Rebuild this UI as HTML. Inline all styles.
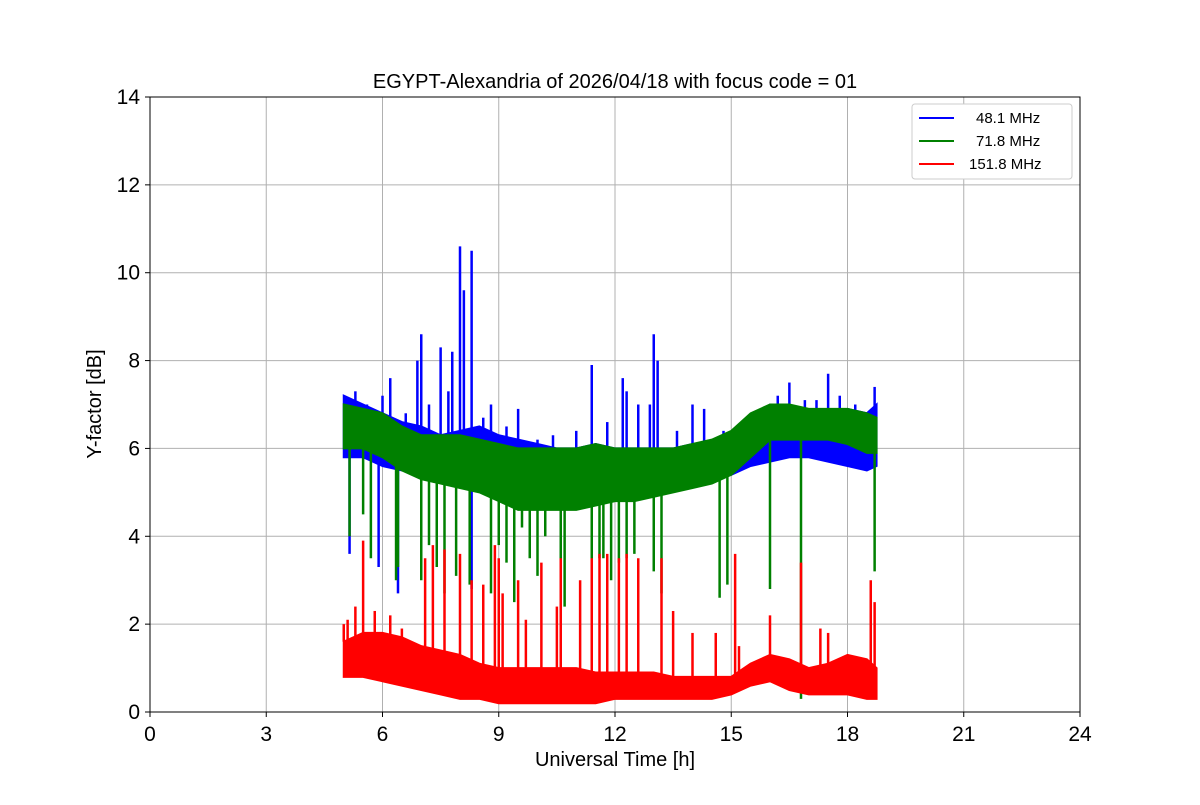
<!DOCTYPE html>
<html><head><meta charset="utf-8">
<style>
body{margin:0;background:#fff;}
svg text{font-family:"Liberation Sans",sans-serif;fill:#000;}
</style></head>
<body>
<svg id="chart" width="1200" height="800" xmlns="http://www.w3.org/2000/svg">
<rect width="1200" height="800" fill="#fff"/>
<g id="grid"></g>
<g id="series"></g>
<rect x="150" y="97" width="930" height="615" fill="none" stroke="#000" stroke-width="1"/>
<g id="axes"></g>
<text x="615" y="88" font-size="20" text-anchor="middle">EGYPT-Alexandria of 2026/04/18 with focus code = 01</text>
<text x="615" y="766" font-size="20" text-anchor="middle">Universal Time [h]</text>
<text transform="translate(101,404) rotate(-90)" font-size="20" text-anchor="middle">Y-factor [dB]</text>
<g>
<rect x="912" y="104" width="160" height="75" rx="3" fill="#fff" stroke="#ccc"/>
<line x1="919" y1="118" x2="954" y2="118" stroke="#0000ff" stroke-width="2"/>
<text x="976" y="123" font-size="15">48.1 MHz</text>
<line x1="919" y1="141" x2="954" y2="141" stroke="#008000" stroke-width="2"/>
<text x="976" y="146" font-size="15">71.8 MHz</text>
<line x1="919" y1="164" x2="954" y2="164" stroke="#ff0000" stroke-width="2"/>
<text x="969" y="169" font-size="15">151.8 MHz</text>
</g>
</svg>
<script>
const times=[5.0,5.5,6.0,6.5,7.0,7.5,8.0,8.5,9.0,9.5,10.0,10.5,11.0,11.5,12.0,12.5,13.0,13.5,14.0,14.5,15.0,15.5,16.0,16.5,17.0,17.5,18.0,18.5,18.75];
const blueHi=[7.2,7.0,6.8,6.6,6.5,6.3,6.4,6.5,6.3,6.2,6.1,6.0,6.0,6.1,6.0,6.0,6.0,6.0,6.1,6.0,6.2,6.4,7.0,7.0,6.8,6.8,6.9,6.8,7.0];
const blueLo=[5.8,5.8,5.6,5.5,5.4,5.4,5.3,5.2,5.0,4.9,4.8,4.8,4.8,4.9,4.9,5.0,5.0,5.1,5.2,5.3,5.4,5.6,5.7,5.8,5.8,5.7,5.6,5.5,5.6];
const greenHi=[7.0,6.9,6.8,6.5,6.3,6.3,6.3,6.2,6.1,6.0,6.0,6.0,6.0,6.1,6.0,6.0,6.0,6.0,6.1,6.2,6.4,6.8,7.0,7.0,6.9,6.9,6.9,6.8,6.7];
const greenLo=[6.0,6.0,5.8,5.5,5.3,5.2,5.1,5.0,4.8,4.6,4.6,4.6,4.6,4.7,4.8,4.8,4.9,5.0,5.1,5.2,5.4,5.8,6.2,6.2,6.2,6.2,6.1,5.9,5.9];
const redHi=[1.6,1.8,1.8,1.7,1.5,1.4,1.3,1.1,1.0,1.0,1.0,1.0,1.0,0.9,0.9,0.9,0.9,0.8,0.8,0.8,0.8,1.1,1.3,1.2,1.0,1.1,1.3,1.2,1.0];
const redLo=[0.8,0.8,0.7,0.6,0.5,0.4,0.3,0.3,0.2,0.2,0.2,0.2,0.2,0.2,0.3,0.3,0.3,0.3,0.3,0.3,0.4,0.6,0.7,0.5,0.4,0.4,0.4,0.3,0.3];
const blueSpikeT=[5.3,5.6,6.0,6.2,6.9,7.0,7.5,7.8,8.0,8.1,8.3,8.8,9.5,10.0,11.4,12.2,12.3,12.6,13.0,13.1,14.0,14.3,16.5,17.5,17.8,18.7,5.15,5.9,6.4,8.3,6.6,7.2,7.7,8.6,9.2,10.4,11.0,11.8,12.9,13.6,14.8,15.6,16.2,16.9,17.2,18.2];
const blueSpikeV=[7.3,7.0,7.2,7.6,8.0,8.6,8.3,8.2,10.6,9.6,10.5,7.0,6.9,6.2,7.9,7.6,7.3,7.0,8.6,8.0,7.0,6.9,7.5,7.7,7.2,7.4,3.6,3.3,2.7,2.8,6.8,7.0,7.3,6.7,6.5,6.3,6.4,6.6,7.0,6.4,6.4,6.7,7.2,7.1,7.1,7.0];
const greenSpikeT=[5.15,5.5,5.7,6.35,6.4,7.0,7.2,7.4,7.6,7.9,8.25,8.8,9.0,9.2,9.4,9.8,10.0,10.6,10.7,11.4,11.6,11.7,11.9,12.3,13.0,13.2,14.7,14.9,16.0,16.8,18.7,12.1,12.5,10.2,9.6];
const greenSpikeV=[4.0,4.5,3.5,3.0,3.3,3.0,3.8,3.3,2.7,3.1,2.9,2.7,3.8,3.4,2.5,3.5,3.1,3.2,2.4,3.3,3.5,3.5,3.0,3.5,3.2,2.7,2.6,2.9,2.8,0.3,3.2,3.4,3.6,4.0,4.2];
const redSpikeT=[5.0,5.1,5.3,5.5,5.8,6.2,6.5,7.1,7.3,7.6,8.0,8.3,8.6,8.9,9.0,9.1,9.5,9.7,10.1,10.5,10.6,11.1,11.4,11.6,11.8,12.1,12.3,12.6,13.2,13.5,14.0,14.6,15.1,15.2,16.0,16.8,17.3,17.5,18.6,18.7];
const redSpikeV=[2.0,2.1,2.4,3.9,2.3,2.2,1.9,3.5,3.8,3.7,3.6,3.0,2.9,3.8,3.5,2.7,3.0,2.1,3.4,2.4,3.5,3.0,3.5,3.6,3.6,3.5,3.6,3.5,3.5,2.3,1.8,1.8,3.6,1.5,2.2,3.4,1.9,1.8,3.0,2.5];
const xTicks=[0,3,6,9,12,15,18,21,24];
const yTicks=[0,2,4,6,8,10,12,14];

const NS="http://www.w3.org/2000/svg";
const X=t=>150+t*930/24;
const Y=v=>712-v*615/14;
function mk(tag,attrs,parent){const e=document.createElementNS(NS,tag);for(const k in attrs)e.setAttribute(k,attrs[k]);parent.appendChild(e);return e;}
const grid=document.getElementById('grid'),axes=document.getElementById('axes'),ser=document.getElementById('series');
xTicks.forEach(t=>{
  const g=mk('line',{x1:X(t),x2:X(t),y1:97,y2:712,stroke:'#b0b0b0','stroke-width':1},grid);
  
  
  mk('line',{x1:X(t),x2:X(t),y1:712,y2:717,stroke:'#000'},axes);
  const tx=mk('text',{x:X(t),y:741,'font-size':21,'text-anchor':'middle'},axes);tx.textContent=t;
  
  
});
yTicks.forEach(v=>{
  const g=mk('line',{x1:150,x2:1080,y1:Y(v),y2:Y(v),stroke:'#b0b0b0','stroke-width':1},grid);
  
  
  mk('line',{x1:145,x2:150,y1:Y(v),y2:Y(v),stroke:'#000'},axes);
  const tx=mk('text',{x:140,y:Y(v)+7,'font-size':21,'text-anchor':'end'},axes);tx.textContent=v;
  
  
});
function band(hi,lo,spT,spV,color,name){
  const g=mk('g',{},ser);
  
  
  let pts=[];
  times.forEach((t,i)=>pts.push(X(t)+','+Y(hi[i])));
  for(let i=times.length-1;i>=0;i--)pts.push(X(times[i])+','+Y(lo[i]));
  mk('polygon',{points:pts.join(' '),fill:color,stroke:color,'stroke-width':2},g);
  spT.forEach((t,i)=>{
    let j=0;while(j<times.length-2&&times[j+1]<=t)j++;
    const f=Math.max(0,Math.min(1,(t-times[j])/(times[j+1]-times[j])));
    const h=hi[j]+(hi[j+1]-hi[j])*f,l=lo[j]+(lo[j+1]-lo[j])*f;
    const base=spV[i]>h?h:(spV[i]<l?l:(h+l)/2);
    const s=mk('line',{x1:X(t),x2:X(t),y1:Y(base),y2:Y(spV[i]),stroke:color,'stroke-width':2.5},g);
    
    
  });
}
band(blueHi,blueLo,blueSpikeT,blueSpikeV,'#0000ff','series-48mhz');
band(greenHi,greenLo,greenSpikeT,greenSpikeV,'#008000','series-71mhz');
band(redHi,redLo,redSpikeT,redSpikeV,'#ff0000','series-151mhz');
</script>
</body></html>
